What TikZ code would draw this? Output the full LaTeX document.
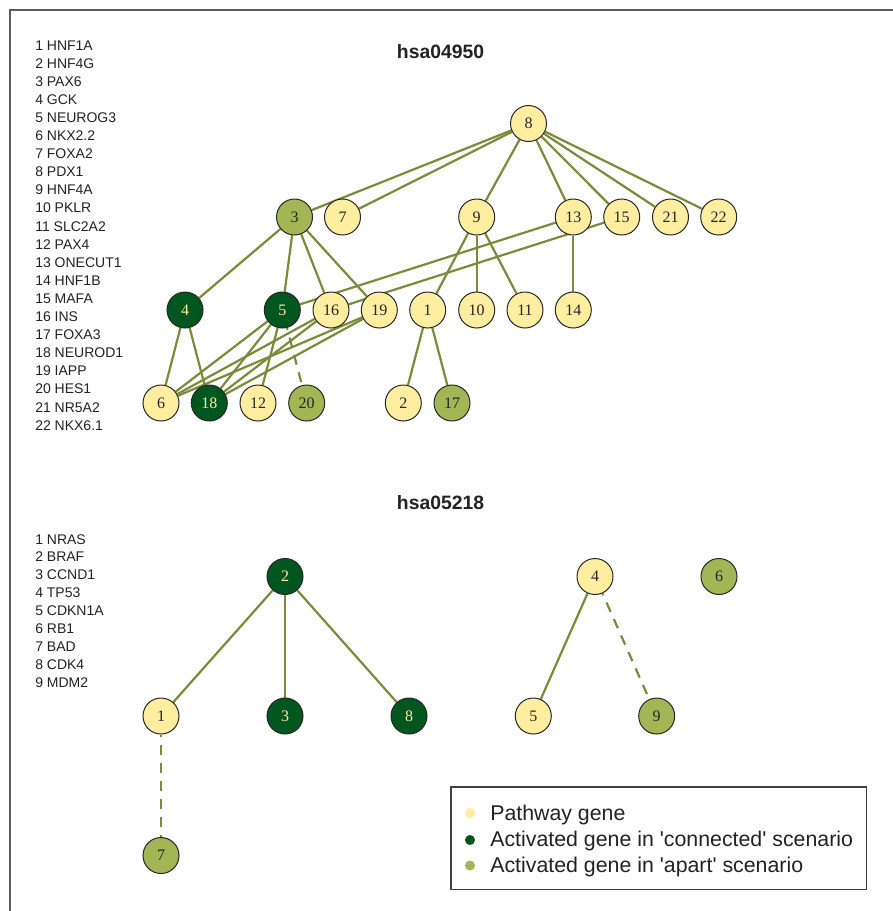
\documentclass[tikz,border=0pt]{standalone}
\usepackage{fontspec}
\setmainfont{Liberation Sans}
\newfontfamily\numfont{Liberation Serif}
\newfontfamily\legfont{Liberation Sans}[Ligatures=TeXOff]
\usetikzlibrary{backgrounds}
\definecolor{pw}{HTML}{FFEDA0}
\definecolor{cn}{HTML}{00561F}
\definecolor{ap}{HTML}{A3B555}
\definecolor{edgec}{HTML}{7A8B3A}
\definecolor{framec}{HTML}{5C5C5C}
\definecolor{txt}{HTML}{222222}
\tikzset{
  gnode/.style={circle, draw=black!85, line width=0.75pt, minimum size=27pt, inner sep=0pt,
    font=\numfont\fontsize{12}{12}\selectfont, text=black!85},
  pwn/.style={gnode, fill=pw},
  cnn/.style={gnode, fill=cn, text=pw},
  apn/.style={gnode, fill=ap},
  link/.style={draw=edgec, line width=1.65pt},
  dlink/.style={link, dash pattern=on 7.5pt off 6pt, dash phase=6pt},
  listtxt/.style={anchor=base west, inner sep=0pt, text=txt, font=\fontsize{10.5}{10.5}\selectfont},
  titletxt/.style={anchor=base, inner sep=0pt, text=txt, font=\fontsize{14.5}{14.5}\selectfont\bfseries},
  legtxt/.style={anchor=base west, inner sep=0pt, text=txt, font=\legfont\fontsize{16}{16}\selectfont},
}
\begin{document}
\begin{tikzpicture}[x=0.75pt, y=-0.75pt]
\useasboundingbox (0,0) rectangle (893,911);
\draw[framec, line width=1.2pt] (10,911) -- (10,10) -- (893,10);

% ---------- hsa04950 ----------
\node[titletxt] (t1) at (440.5,58) {hsa04950};
\foreach [count=\i] \g in {HNF1A,HNF4G,PAX6,GCK,NEUROG3,NKX2.2,FOXA2,PDX1,HNF4A,PKLR,SLC2A2,PAX4,ONECUT1,HNF1B,MAFA,INS,FOXA3,NEUROD1,IAPP,HES1,NR5A2,NKX6.1}
  \node[listtxt] (ga\i) at (35,{50+18.1*(\i-1)}) {\i\ \g};

\node[pwn] (a8) at (528.5,123.5) {8};
\node[apn] (a3) at (294.5,217) {3};
\node[pwn] (a7) at (342.5,217) {7};
\node[pwn] (a9) at (476.7,217) {9};
\node[pwn] (a13) at (573.3,217) {13};
\node[pwn] (a15) at (621.7,217) {15};
\node[pwn] (a21) at (670.5,217) {21};
\node[pwn] (a22) at (718.7,217) {22};
\node[cnn] (a4) at (185,310) {4};
\node[cnn] (a5) at (282.3,310) {5};
\node[pwn] (a16) at (331,310) {16};
\node[pwn] (a19) at (379.3,310) {19};
\node[pwn] (a1) at (427.7,310) {1};
\node[pwn] (a10) at (476.7,310) {10};
\node[pwn] (a11) at (525,310) {11};
\node[pwn] (a14) at (573.3,310) {14};
\node[pwn] (a6) at (161,403) {6};
\node[cnn] (a18) at (209.3,403) {18};
\node[pwn] (a12) at (258,403) {12};
\node[apn] (a20) at (306.7,403) {20};
\node[pwn] (a2) at (403.3,403) {2};
\node[apn] (a17) at (452,403) {17};

% ---------- hsa05218 ----------
\node[titletxt] (t2) at (440.5,509) {hsa05218};
\foreach [count=\i] \g in {NRAS,BRAF,CCND1,TP53,CDKN1A,RB1,BAD,CDK4,MDM2}
  \node[listtxt] (gb\i) at (35,{544+17.95*(\i-1)}) {\i\ \g};

\node[cnn] (b2) at (285,576.5) {2};
\node[pwn] (b4) at (595,576.5) {4};
\node[apn] (b6) at (719,576.5) {6};
\node[pwn] (b1) at (161,716) {1};
\node[cnn] (b3) at (285,716) {3};
\node[cnn] (b8) at (409,716) {8};
\node[pwn] (b5) at (533.3,716) {5};
\node[apn] (b9) at (656.7,716) {9};
\node[apn] (b7) at (161,855.5) {7};

\begin{pgfonlayer}{background}
  \foreach \t in {3,7,9,13,15,21,22} \draw[link] (a8) -- (a\t);
  \foreach \t in {4,5,16,19} \draw[link] (a3) -- (a\t);
  \foreach \t in {1,10,11} \draw[link] (a9) -- (a\t);
  \draw[link] (a13) -- (a14);
  \draw[link] (a13) -- (a5);
  \draw[link] (a15) -- (a16);
  \foreach \t in {6,18} \draw[link] (a4) -- (a\t);
  \foreach \t in {6,18,12} \draw[link] (a5) -- (a\t);
  \draw[dlink] (a5) -- (a20);
  \foreach \t in {6,18} \draw[link] (a16) -- (a\t);
  \foreach \t in {6,18} \draw[link] (a19) -- (a\t);
  \foreach \t in {2,17} \draw[link] (a1) -- (a\t);

  \foreach \t in {1,3,8} \draw[link] (b2) -- (b\t);
  \draw[link] (b4) -- (b5);
  \draw[dlink] (b4) -- (b9);
  \draw[dlink] (b1) -- (b7);
\end{pgfonlayer}

% ---------- legend ----------
\draw[black!75, line width=0.8pt] (451,787) rectangle (866.5,889.5);
\fill[pw] (470,813) circle (3.75pt);
\fill[cn] (470,840) circle (3.75pt);
\fill[ap] (470,865.5) circle (3.75pt);
\node[legtxt] (l1) at (490,820) {Pathway gene};
\node[legtxt] (l2) at (490,846) {Activated gene in 'connected' scenario};
\node[legtxt] (l3) at (490,872) {Activated gene in 'apart' scenario};
\end{tikzpicture}
\end{document}
